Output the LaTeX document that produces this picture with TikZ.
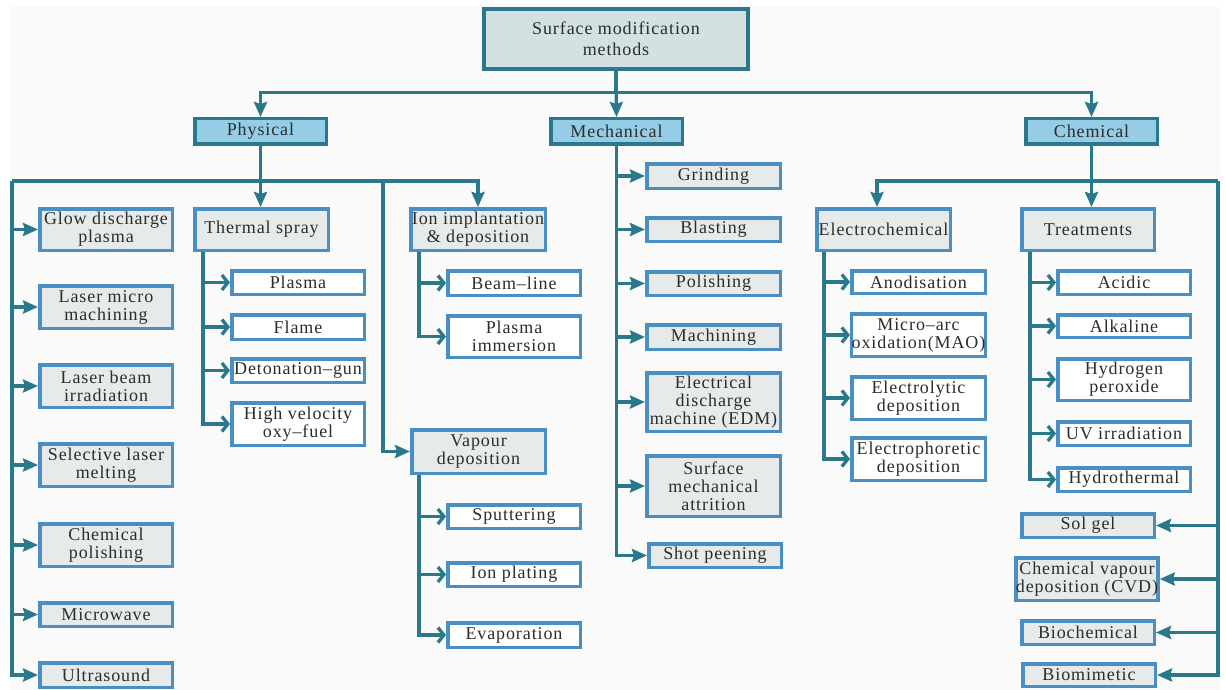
\documentclass[tikz,border=0pt]{standalone}
\usepackage{fontspec}
\setmainfont{Liberation Serif}[LetterSpace=5.0]
\usetikzlibrary{arrows.meta}
\definecolor{teal}{HTML}{2A788C}
\definecolor{boxblue}{HTML}{4B8EC2}
\definecolor{topfill}{HTML}{D3E1E3}
\definecolor{lvlfill}{HTML}{95CDE6}
\definecolor{grayfill}{HTML}{E6EAEB}
\definecolor{txt}{HTML}{2C2C2C}
\definecolor{bg}{HTML}{FAFAFA}
\newcommand\bx[7]{\node[#1,minimum width={(#5-#3-3.5)*1pt},minimum height={(#6-#4-3.5)*1pt}] (#2) at ({(#3+#5)/2},{(#4+#6)/2}) {#7};}
\begin{document}
\begin{tikzpicture}[x=1pt,y=-1pt,
  basebox/.style={inner sep=0pt,align=center,text=txt,font=\fontsize{18}{18}\selectfont},
  topbox/.style={basebox,draw=teal,line width=4pt,fill=topfill,font=\fontsize{18}{21}\selectfont},
  lvlbox/.style={basebox,draw=teal,line width=3.5pt,fill=lvlfill},
  graybox/.style={basebox,draw=boxblue,line width=3.5pt,fill=grayfill},
  whitebox/.style={basebox,draw=boxblue,line width=3.5pt,fill=white},
  ln/.style={draw=teal,line width=3.3pt},
  arrF/.style={ln,-{Stealth[length=15pt,width=13pt,inset=2pt]}},
  arrO/.style={ln,-{Straight Barb[length=6pt,width=15pt]}}]
\useasboundingbox (0,0) rectangle (1226,690);
\fill[bg] (10,6) rectangle (1220,690);
% boxes
\bx{topbox}{top}{482}{7}{750}{71}{Surface modification\\methods}
\bx{lvlbox}{phys}{193}{117}{328}{146}{Physical}
\bx{lvlbox}{mech}{549}{117}{684}{146}{Mechanical}
\bx{lvlbox}{chem}{1024}{117}{1159}{146}{Chemical}
% left column
\bx{graybox}{glow}{38}{207}{174}{252}{Glow discharge\\plasma}
\bx{graybox}{lmm}{38}{284}{174}{330}{Laser micro\\machining}
\bx{graybox}{lbi}{38}{363}{174}{409}{Laser beam\\irradiation}
\bx{graybox}{slm}{38}{442}{174}{488}{Selective laser\\melting}
\bx{graybox}{cpol}{38}{522}{174}{568}{Chemical\\polishing}
\bx{graybox}{micro}{38}{601}{174}{628}{Microwave}
\bx{graybox}{ultra}{38}{661}{174}{689}{Ultrasound}
% thermal spray
\bx{graybox}{thermal}{193}{207}{330}{252}{Thermal spray}
\bx{whitebox}{tsa}{230}{269}{366}{296}{Plasma}
\bx{whitebox}{tsb}{230}{313}{366}{341}{Flame}
\bx{whitebox}{tsc}{230}{357}{366}{384}{Detonation–gun}
\bx{whitebox}{tsd}{230}{401}{366}{447}{High velocity\\oxy–fuel}
% ion implantation
\bx{graybox}{ion}{409}{207}{547}{252}{Ion implantation\\\& deposition}
\bx{whitebox}{iia}{446}{269}{582}{297}{Beam–line}
\bx{whitebox}{iib}{446}{314}{582}{359}{Plasma\\immersion}
% vapour deposition
\bx{graybox}{vap}{410}{428}{547}{475}{Vapour\\deposition}
\bx{whitebox}{vda}{446}{503}{582}{530}{Sputtering}
\bx{whitebox}{vdb}{446}{561}{582}{588}{Ion plating}
\bx{whitebox}{vdc}{446}{621}{582}{649}{Evaporation}
% mechanical
\bx{graybox}{ma}{645}{162}{782}{190}{Grinding}
\bx{graybox}{mb}{645}{216}{782}{243}{Blasting}
\bx{graybox}{mc}{645}{270}{782}{297}{Polishing}
\bx{graybox}{md}{645}{323}{782}{351}{Machining}
\bx{graybox}{me}{645}{371}{782}{433}{Electrical\\discharge\\machine (EDM)}
\bx{graybox}{mf}{645}{454}{782}{518}{Surface\\mechanical\\attrition}
\bx{graybox}{mg}{647}{542}{783}{569}{Shot peening}
% electrochemical
\bx{graybox}{electro}{815}{207}{952}{252}{Electrochemical}
\bx{whitebox}{ea}{850}{269}{987}{295}{Anodisation}
\bx{whitebox}{eb}{850}{312}{987}{358}{Micro–arc\\oxidation(MAO)}
\bx{whitebox}{ec}{850}{375}{987}{421}{Electrolytic\\deposition}
\bx{whitebox}{ed}{850}{436}{987}{482}{Electrophoretic\\deposition}
% treatments
\bx{graybox}{treat}{1020}{207}{1156}{252}{Treatments}
\bx{whitebox}{ta}{1056}{269}{1192}{296}{Acidic}
\bx{whitebox}{tb}{1056}{313}{1192}{339}{Alkaline}
\bx{whitebox}{tc}{1056}{357}{1192}{402}{Hydrogen\\peroxide}
\bx{whitebox}{td}{1056}{420}{1192}{447}{UV irradiation}
\bx{whitebox}{te}{1056}{466}{1192}{493}{Hydrothermal}
% other chemical
\bx{graybox}{sol}{1020}{512}{1156}{539}{Sol gel}
\bx{graybox}{cvd}{1017}{556}{1157}{602}{Chemical vapour\\deposition (CVD)}
\bx{graybox}{bioc}{1020}{619}{1156}{646}{Biochemical}
\bx{graybox}{biom}{1021}{662}{1157}{688}{Biomimetic}
% top connectors
\draw[arrF] (top.south) -- (mech.north);
\draw[arrF] (top.south) -- ++(0,21) -| (phys.north);
\draw[arrF] (top.south) -- ++(0,21) -| (chem.north);
% physical
\coordinate (pbus) at (12,181);
\coordinate (vbus) at (383,181);
\draw[arrF] (phys.south) -- (phys.south |- thermal.north);
\draw[arrF] (pbus) -| (ion.north);
\draw[arrF] (pbus) |- (ultra.west);
\foreach \n in {glow,lmm,lbi,slm,cpol,micro} \draw[arrF] (pbus |- \n.west) -- (\n.west);
\draw[arrF] (vbus) |- (vap.west);
% thermal
\coordinate (tbus) at (203,0);
\draw[arrO] (tbus |- thermal.south) |- (tsd.west);
\foreach \n in {tsa,tsb,tsc} \draw[arrO] (tbus |- \n.west) -- (\n.west);
% ion and vapour
\coordinate (ibus) at (419,0);
\draw[arrO] (ibus |- ion.south) |- (iib.west);
\draw[arrO] (ibus |- iia.west) -- (iia.west);
\draw[arrO] (ibus |- vap.south) |- (vdc.west);
\foreach \n in {vda,vdb} \draw[arrO] (ibus |- \n.west) -- (\n.west);
% mechanical
\draw[arrF] (mech.south) |- (mg.west);
\foreach \n in {ma,mb,mc,md,me,mf} \draw[arrF] (mech.south |- \n.west) -- (\n.west);
% chemical
\coordinate (cbusL) at (877,181);
\coordinate (cbusR) at (1218,181);
\draw[arrF] (chem.south) -- (chem.south |- treat.north);
\draw[arrF] (cbusR) -- (cbusL) -- (cbusL |- electro.north);
\draw[arrF] (cbusR) |- (biom.east);
\foreach \n in {sol,cvd,bioc} \draw[arrF] (cbusR |- \n.east) -- (\n.east);
% electrochemical
\coordinate (ebus) at (824,0);
\draw[arrO] (ebus |- electro.south) |- (ed.west);
\foreach \n in {ea,eb,ec} \draw[arrO] (ebus |- \n.west) -- (\n.west);
% treatments
\coordinate (trbus) at (1030,0);
\draw[arrO] (trbus |- treat.south) |- (te.west);
\foreach \n in {ta,tb,tc,td} \draw[arrO] (trbus |- \n.west) -- (\n.west);
\end{tikzpicture}
\end{document}
